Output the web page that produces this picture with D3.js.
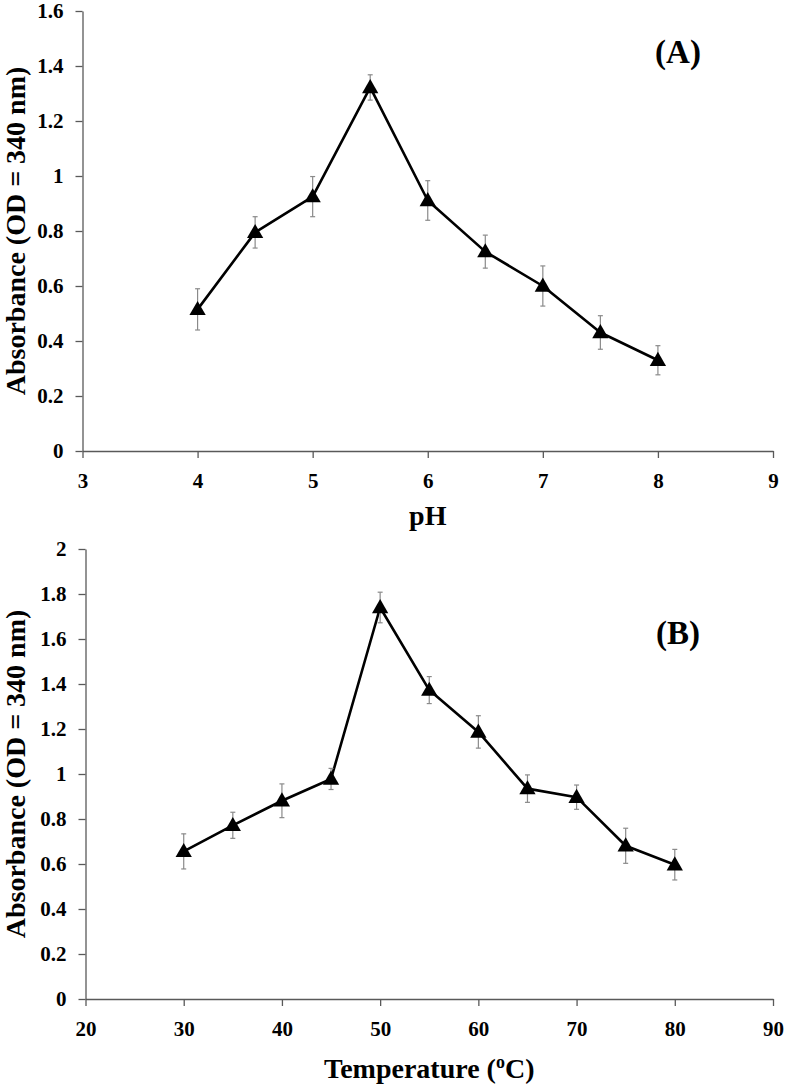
<!DOCTYPE html>
<html>
<head>
<meta charset="utf-8">
</head>
<body style="margin:0; background:#fff">
<script src="https://cdn.jsdelivr.net/npm/d3@7"></script>
<script>
// panel A: pH
const phX = [4, 4.5, 5, 5.5, 6, 6.5, 7, 7.5, 8];
const phY = [0.515, 0.795, 0.925, 1.322, 0.911, 0.725, 0.60, 0.431, 0.33];
const phErr = [0.075, 0.057, 0.073, 0.046, 0.072, 0.06, 0.073, 0.061, 0.053];
const phXTicks = [3, 4, 5, 6, 7, 8, 9];
const phYTicks = [0, 0.2, 0.4, 0.6, 0.8, 1, 1.2, 1.4, 1.6];

// panel B: temperature
const tempX = [30, 35, 40, 45, 50, 55, 60, 65, 70, 75, 80];
const tempY = [0.656, 0.772, 0.881, 0.978, 1.74, 1.373, 1.187, 0.935, 0.897, 0.681, 0.597];
const tempErr = [0.078, 0.058, 0.075, 0.047, 0.068, 0.06, 0.072, 0.061, 0.054, 0.078, 0.068];
const tempXTicks = [20, 30, 40, 50, 60, 70, 80, 90];
const tempYTicks = [0, 0.2, 0.4, 0.6, 0.8, 1, 1.2, 1.4, 1.6, 1.8, 2];

const FONT = '"Liberation Serif"';
const axisColor = "#595959";

const svg = d3.select("body").append("svg")
    .attr("width", 787)
    .attr("height", 1088);

function styleAxis(sel) {
    sel.attr("font-family", null).attr("font-size", null);
    sel.selectAll("path, line").attr("stroke", axisColor).attr("stroke-width", 1.3);
    sel.selectAll("text")
        .style("font-family", FONT)
        .style("font-weight", "bold")
        .style("font-size", "21px")
        .attr("fill", "#000");
}

function panel(cfg) {
    const g = svg.append("g");
    const x = d3.scaleLinear().domain(cfg.xDomain).range([cfg.left, cfg.right]);
    const y = d3.scaleLinear().domain(cfg.yDomain).range([cfg.bottom, cfg.top]);

    g.append("g")
        .attr("transform", `translate(0,${cfg.bottom})`)
        .call(d3.axisBottom(x).tickValues(cfg.xTicks).tickSizeInner(7).tickSizeOuter(0).tickPadding(15).tickFormat(d3.format("")))
        .call(styleAxis);

    g.append("g")
        .attr("transform", `translate(${cfg.left},0)`)
        .call(d3.axisLeft(y).tickValues(cfg.yTicks).tickSizeInner(7).tickSizeOuter(0).tickPadding(12).tickFormat(d3.format("")))
        .call(styleAxis);

    const pts = cfg.xs.map((v, i) => ({x: v, y: cfg.ys[i], e: cfg.errs[i]}));

    const line = d3.line().x(d => x(d.x)).y(d => y(d.y));
    g.append("path")
        .datum(pts)
        .attr("fill", "none")
        .attr("stroke", "#000")
        .attr("stroke-width", 2.6)
        .attr("stroke-linejoin", "round")
        .attr("d", line);

    // error bars
    const eb = g.append("g").attr("stroke", "#8a8a8a").attr("stroke-width", 1.2);
    eb.selectAll(".bar").data(pts).enter().append("line")
        .attr("x1", d => x(d.x)).attr("x2", d => x(d.x))
        .attr("y1", d => y(d.y - d.e)).attr("y2", d => y(d.y + d.e));
    eb.selectAll(".capt").data(pts).enter().append("line")
        .attr("x1", d => x(d.x) - 2.5).attr("x2", d => x(d.x) + 2.5)
        .attr("y1", d => y(d.y + d.e)).attr("y2", d => y(d.y + d.e));
    eb.selectAll(".capb").data(pts).enter().append("line")
        .attr("x1", d => x(d.x) - 2.5).attr("x2", d => x(d.x) + 2.5)
        .attr("y1", d => y(d.y - d.e)).attr("y2", d => y(d.y - d.e));

    // triangle markers
    g.selectAll(".marker").data(pts).enter().append("path")
        .attr("d", d3.symbol().type(d3.symbolTriangle).size(115))
        .attr("fill", "#000")
        .attr("transform", d => `translate(${x(d.x)},${y(d.y) + 1})`);

    // axis titles
    g.append("text")
        .attr("transform", `translate(25,${(cfg.top + cfg.bottom) / 2}) rotate(-90)`)
        .attr("text-anchor", "middle")
        .style("font-family", FONT).style("font-weight", "bold").style("font-size", "28px")
        .text("Absorbance (OD = 340 nm)");

    const xt = g.append("text")
        .attr("x", (cfg.left + cfg.right) / 2)
        .attr("y", cfg.xTitleY)
        .attr("text-anchor", "middle")
        .style("font-family", FONT).style("font-weight", "bold").style("font-size", "28px");
    cfg.xTitle(xt);

    g.append("text")
        .attr("x", 678)
        .attr("y", cfg.tagY)
        .attr("text-anchor", "middle")
        .style("font-family", FONT).style("font-weight", "bold").style("font-size", "33px")
        .text(cfg.tag);
}

panel({
    xDomain: [3, 9], yDomain: [0, 1.6],
    left: 82.5, right: 773, top: 11, bottom: 451,
    xTicks: phXTicks, yTicks: phYTicks,
    xs: phX, ys: phY, errs: phErr,
    xTitleY: 525,
    xTitle: t => t.text("pH"),
    tag: "(A)", tagY: 63
});

panel({
    xDomain: [20, 90], yDomain: [0, 2],
    left: 85.5, right: 773, top: 549, bottom: 999,
    xTicks: tempXTicks, yTicks: tempYTicks,
    xs: tempX, ys: tempY, errs: tempErr,
    xTitleY: 1078,
    xTitle: t => {
        t.append("tspan").text("Temperature (");
        t.append("tspan").style("font-size", "18px").attr("dy", -10).text("o");
        t.append("tspan").attr("dy", 10).text("C)");
    },
    tag: "(B)", tagY: 644
});
</script>
</body>
</html>
